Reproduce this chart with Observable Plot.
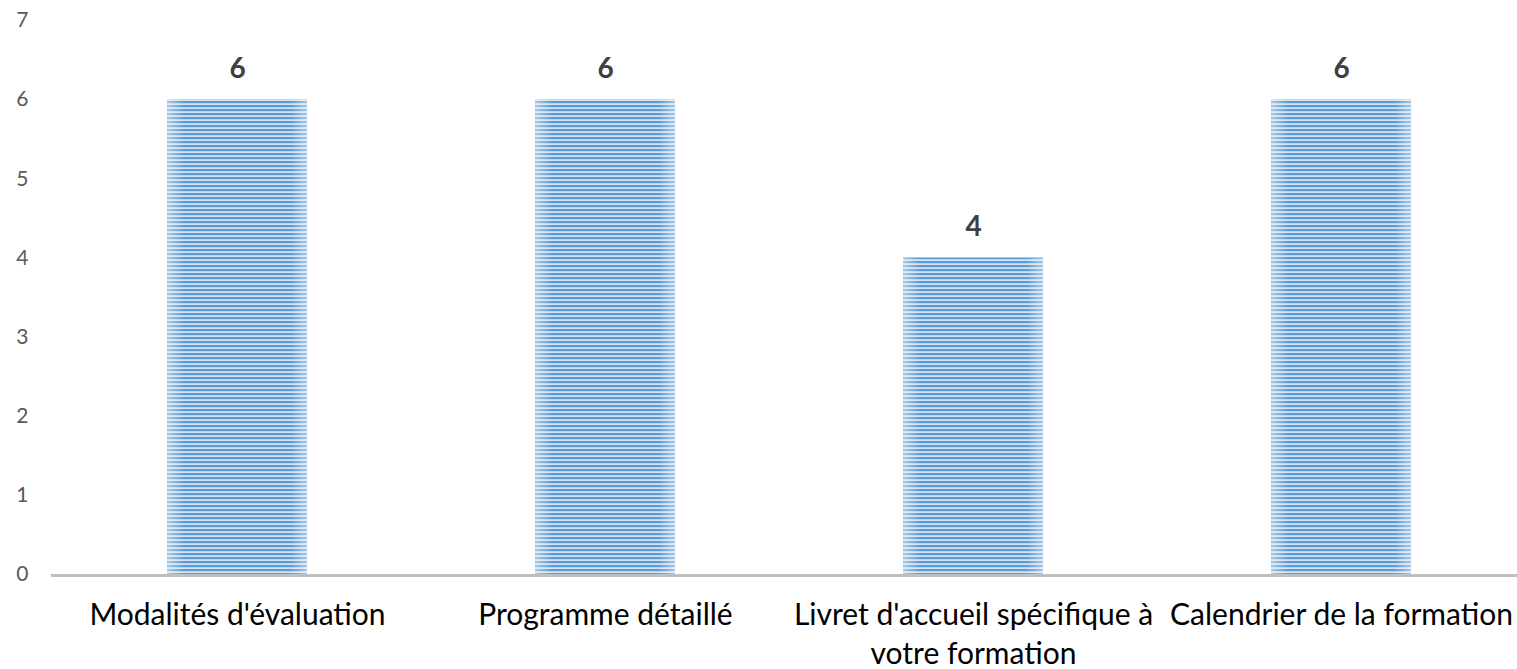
<!DOCTYPE html>
<html>
<head>
<meta charset="utf-8">
<script src="https://cdn.jsdelivr.net/npm/d3@7"></script>
<script src="https://cdn.jsdelivr.net/npm/@observablehq/plot@0.6"></script>
<style>
  html, body { margin: 0; padding: 0; background: #ffffff; }
  svg { display: block; }
</style>
</head>
<body>
<div id="chart"></div>
<script>
const categories = [
  "Modalités d'évaluation",
  "Programme détaillé",
  "Livret d'accueil spécifique à votre formation",
  "Calendrier de la formation"
];
const tickLabels = [
  "Modalités d'évaluation",
  "Programme détaillé",
  "Livret d'accueil spécifique à\nvotre formation",
  "Calendrier de la formation"
];
const values = [6, 6, 4, 6];
const yTicks = [0, 1, 2, 3, 4, 5, 6, 7];

const data = categories.map((c, i) => ({category: c, value: values[i]}));
const labelOf = new Map(categories.map((c, i) => [c, tickLabels[i]]));

const chart = Plot.plot({
  width: 1517,
  height: 669,
  marginLeft: 51,
  marginRight: 0,
  marginTop: 20,
  marginBottom: 95,
  style: {fontFamily: "Lato, 'Open Sans', sans-serif", background: "#ffffff"},
  x: {domain: categories, range: [51, 1526], paddingInner: 0.62, paddingOuter: 0.31},
  y: {domain: [0, 7], range: [574, 20]},
  marks: [
    Plot.barY(data, {x: "category", y: "value", fill: "url(#stripes)"}),
    Plot.barY(data, {x: "category", y: "value", fill: "url(#edgeFade)"}),
    Plot.ruleY([0], {stroke: "#c0c0c0", strokeWidth: 3, dy: 1}),
    Plot.text(data, {
      x: "category", y: "value", text: d => String(d.value),
      dy: -31, fontSize: 28, fontWeight: "bold", fill: "#404040", lineAnchor: "middle"
    }),
    Plot.axisY({
      ticks: yTicks, tickSize: 0, tickPadding: 23, fontSize: 21,
      color: "#595959", label: null, tickFormat: d => String(d)
    }),
    Plot.axisX({
      tickSize: 0, tickPadding: 23, fontSize: 30, color: "#000000",
      label: null, tickFormat: d => labelOf.get(d), lineHeight: 1.3
    })
  ]
});

const svg = d3.select(chart);
svg.insert("defs", ":first-child").html(`
  <pattern id="stripes" patternUnits="userSpaceOnUse" x="0" y="1" width="8" height="4">
    <rect x="0" y="0" width="8" height="4" fill="#d2e3f3"></rect>
    <rect x="0" y="0" width="8" height="2.2" fill="#5b9bd5"></rect>
  </pattern>
  <linearGradient id="edgeFade" x1="0" y1="0" x2="1" y2="0">
    <stop offset="0" stop-color="#ffffff" stop-opacity="0.45"></stop>
    <stop offset="0.12" stop-color="#ffffff" stop-opacity="0"></stop>
    <stop offset="0.88" stop-color="#ffffff" stop-opacity="0"></stop>
    <stop offset="1" stop-color="#ffffff" stop-opacity="0.45"></stop>
  </linearGradient>
`);
document.getElementById("chart").appendChild(chart);
</script>
</body>
</html>
